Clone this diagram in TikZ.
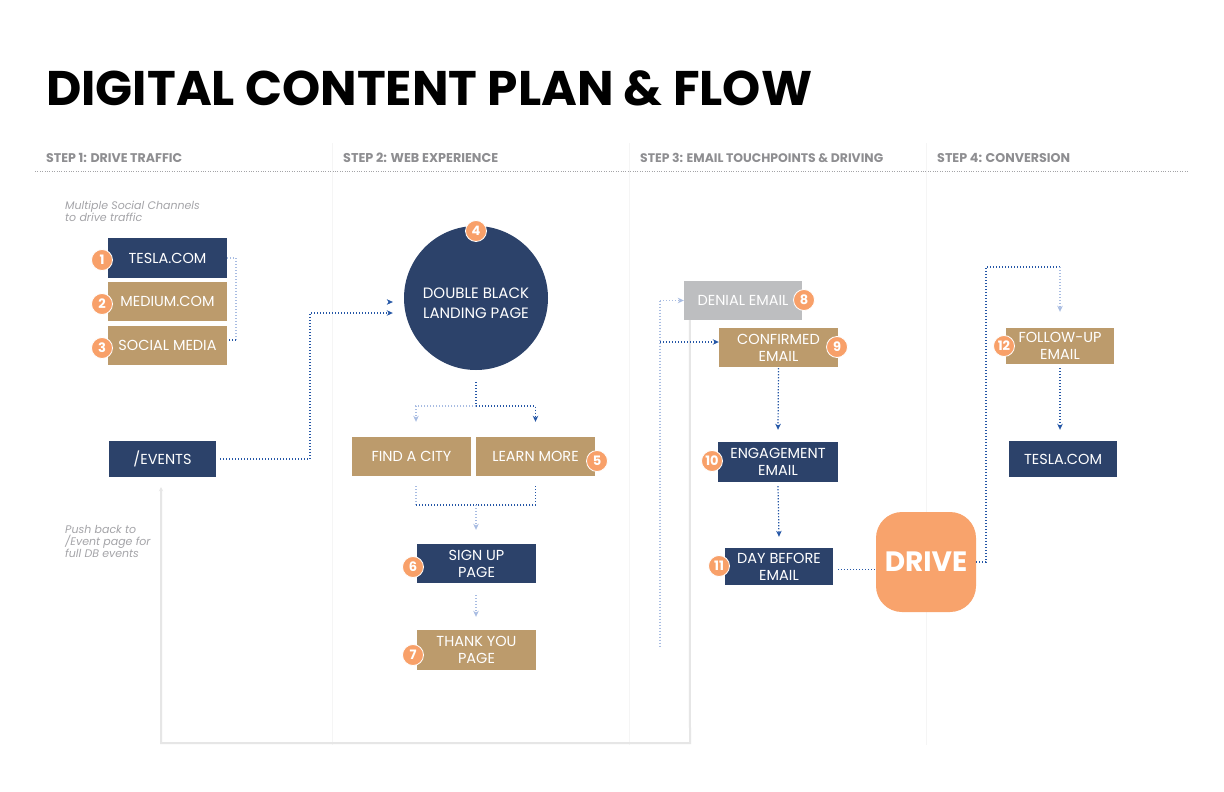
\documentclass[tikz,border=0pt]{standalone}
\usepackage{fontspec}
\setmainfont{Poppins}
\usetikzlibrary{arrows.meta,calc}
\definecolor{navy}{HTML}{2C426A}
\definecolor{tan}{HTML}{BC9B6C}
\definecolor{badgeor}{HTML}{F8A069}
\definecolor{driveor}{HTML}{F8A36C}
\definecolor{grayboxc}{HTML}{BDBEC0}
\definecolor{dotblue}{HTML}{2456A6}
\definecolor{dotlt}{HTML}{A8BCE2}
\definecolor{hdrgray}{HTML}{8E8E91}
\definecolor{itgray}{HTML}{A4A4A8}
\definecolor{colline}{HTML}{F5F5F5}
\definecolor{fbgray}{HTML}{E6E6E6}
\tikzset{
  box/.style={rectangle, inner sep=0, text=white, align=center,
    font=\fontsize{14.5}{17}\selectfont},
  badge/.style={circle, fill=badgeor, draw=white, line width=0.8pt,
    minimum size=21, inner sep=0, text=white,
    font=\bfseries\fontsize{13}{13}\selectfont},
  arr/.style={-{Stealth[length=6pt,width=5.5pt,inset=1.8pt]}},
  dotdark/.style={draw=dotblue, line width=1.2pt, dash pattern=on 1.2pt off 1.8pt},
  dotlight/.style={draw=dotlt, line width=1.2pt, dash pattern=on 1.2pt off 1.8pt},
  hdr/.style={anchor=base west, inner sep=0, text=hdrgray,
    font=\bfseries\fontsize{10.5}{12}\selectfont},
  note/.style={anchor=north west, inner sep=0, text=itgray, align=left,
    font=\itshape\fontsize{11}{12}\selectfont},
  fb/.style={draw=fbgray, line width=2pt},
}
\begin{document}
\begin{tikzpicture}[x=1pt,y=-1pt]
\useasboundingbox[fill=white] (0,0) rectangle (1224,792);

% column separators
\foreach \cx in {332,629,926} \draw[colline, line width=1pt] (\cx,143) -- (\cx,745);
% header rule
\draw[hdrgray!80, line width=0.8pt, dash pattern=on 0.8pt off 1.6pt] (35,171) -- (1188,171);

% title
\node[anchor=base west, inner sep=0] (title) at (46,106)
  {\resizebox{766pt}{!}{\bfseries DIGITAL CONTENT PLAN \& FLOW}};

% headers
\node[hdr] (h1) at (46,162.5) {\resizebox{136pt}{!}{STEP 1: DRIVE TRAFFIC}};
\node[hdr] (h2) at (343,162.5) {\resizebox{155pt}{!}{STEP 2: WEB EXPERIENCE}};
\node[hdr] (h3) at (640,162.5) {\resizebox{243pt}{!}{STEP 3: EMAIL TOUCHPOINTS \& DRIVING}};
\node[hdr] (h4) at (937,162.5) {\resizebox{133pt}{!}{STEP 4: CONVERSION}};

% notes
\node[note] (n1) at (65,201) {Multiple Social Channels\\to drive traffic};
\node[note] (n2) at (65,525) {Push back to\\/Event page for\\full DB events};

% step 1
\node[box, fill=navy, minimum width=119, minimum height=40] (tesla1) at (167.5,258) {TESLA.COM};
\node[box, fill=tan, minimum width=119, minimum height=39] (medium) at (167.5,301.5) {MEDIUM.COM};
\node[box, fill=tan, minimum width=119, minimum height=39] (social) at (167.5,345.5) {SOCIAL MEDIA};
\node[badge] (b1) at (102,260) {1};
\node[badge] (b2) at (102,304) {2};
\node[badge] (b3) at (102,348) {3};
\node[box, fill=navy, minimum width=107, minimum height=36] (events) at (162.5,459) {/EVENTS};

% step 2
\node[circle, fill=navy, minimum size=144, inner sep=0] (circ) at (476,298) {};
\node[box, font=\fontsize{15}{20}\selectfont] (circtext) at (476,303) {DOUBLE BLACK\\LANDING PAGE};
\node[badge] (b4) at (476,231) {4};
\node[box, fill=tan, minimum width=119, minimum height=39] (find) at (411.5,456.5) {FIND A CITY};
\node[box, fill=tan, minimum width=119, minimum height=39] (learn) at (535.5,456.5) {LEARN MORE};
\node[badge] (b5) at (597,461) {5};
\node[box, fill=navy, minimum width=119, minimum height=39] (signup) at (476.5,563.5) {SIGN UP\\PAGE};
\node[badge] (b6) at (413,567) {6};
\node[box, fill=tan, minimum width=119, minimum height=40] (thanks) at (476.5,650) {THANK YOU\\PAGE};
\node[badge] (b7) at (413,655) {7};

% step 3
\node[box, fill=grayboxc, minimum width=118, minimum height=39] (denial) at (743,300.5) {DENIAL EMAIL};
\node[badge] (b8) at (804,300) {8};
\node[box, fill=tan, minimum width=119, minimum height=39] (confirmed) at (778.5,347.5) {CONFIRMED\\EMAIL};
\node[badge] (b9) at (837,347) {9};
\node[box, fill=navy, minimum width=120, minimum height=40] (engage) at (778,462) {ENGAGEMENT\\EMAIL};
\node[badge] (b10) at (712,461) {10};
\node[box, fill=navy, minimum width=108, minimum height=37] (daybefore) at (779,566.5) {DAY BEFORE\\EMAIL};
\node[badge] (b11) at (719,566) {11};
\node[rectangle, rounded corners=26, fill=driveor, minimum width=100, minimum height=100, inner sep=0,
  text=white, font=\bfseries\fontsize{28}{30}\selectfont] (drive) at (926,562) {DRIVE};

% step 4
\node[box, fill=tan, minimum width=108, minimum height=36] (followup) at (1060,346) {FOLLOW-UP\\EMAIL};
\node[badge] (b12) at (1004,346) {12};
\node[box, fill=navy, minimum width=108, minimum height=36] (tesla2) at (1063,459) {TESLA.COM};

% --- connectors ---
% bracket of social channels
\coordinate (bk) at (236,340);
\draw[dotlight] (tesla1.east) -| (bk);
\draw[dotdark] (bk) -- (social.east |- bk);
% arrow tip only (upper)
\coordinate (tipA) at (386,302);
\draw[white, line width=0.5pt, -{Stealth[length=6pt,width=5.5pt,inset=1.8pt,color=dotblue]}] (tipA) -- ([xshift=-11]circ.west |- tipA);
% events to landing page
\coordinate (ev1) at (310,313);
\draw[dotdark, arr, shorten >=11pt] ([xshift=4]events.east) -| (ev1) -- (circ.west |- ev1);
% circle to find/learn
\coordinate (sp1) at (476,406);
\draw[dotdark] ([yshift=-12]circ.south) -- (sp1);
\draw[dotlight, arr] (sp1) -| ([xshift=4.5,yshift=15]find.north);
\draw[dotdark, arr] (sp1) -| ([yshift=15]learn.north);
% find/learn to sign up
\coordinate (jn) at (476,505);
\coordinate (jl) at (416,505);
\draw[dotlight] ([xshift=4.5,yshift=-10]find.south) -- (jl);
\draw[dotdark] ([yshift=-10]learn.south) |- (jn);
\draw[dotdark] (jl) -- (jn);
\draw[dotlight, arr] (jn) -- ([xshift=-0.5,yshift=14]signup.north);
% sign up to thank you
\draw[dotlight, arr] ([xshift=-0.5,yshift=-12]signup.south) -- ([xshift=-0.5,yshift=13]thanks.north);

% feedback line (gray)
\coordinate (fbc) at (690,743);
\draw[fb, -{Stealth[length=4pt,width=4pt]}] ([xshift=6]denial.south west) -- (fbc) -| ([xshift=-1.5,yshift=-10]events.south);

% step 3 bus
\coordinate (bus1) at (660,300.5);
\coordinate (bus2) at (660,342);
\coordinate (bus3) at (660,647);
\draw[dotlight] (bus1) -- (bus3);
\draw[dotlight, arr] (bus1) -- (denial.west |- bus1);
\draw[dotdark, arr] (bus2) -- (confirmed.west |- bus2);
\draw[dotdark, arr] ([yshift=-1]confirmed.south) -- ([yshift=12]engage.north);
\draw[dotdark, arr] ([yshift=-4]engage.south) -- ([xshift=1,yshift=11]engage.south |- daybefore.north);
\draw[dotdark] ([xshift=5,yshift=-3]daybefore.east) -- ([yshift=-3]drive.west |- daybefore.east);

% drive to follow-up
\coordinate (dr1) at (986,267);
\draw[dotdark] (drive.east) -| (dr1) -- (dr1 -| followup.north);
\draw[dotlight, arr] (dr1 -| followup.north) -- ([yshift=16]followup.north);
\draw[dotdark, arr] ([yshift=-4]followup.south) -- ([xshift=-3,yshift=11]tesla2.north);
\end{tikzpicture}
\end{document}
